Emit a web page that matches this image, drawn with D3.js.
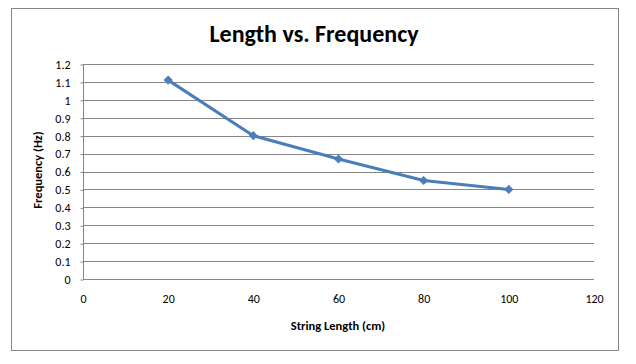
<!DOCTYPE html>
<html><head><meta charset="utf-8">
<script src="https://cdn.jsdelivr.net/npm/d3@7"></script>
<style>body{margin:0;background:#fff}svg{display:block}</style>
</head><body><svg id="c" width="636" height="364"></svg>
<script>
const lengths = [20, 40, 60, 80, 100];
const frequencies = [1.11, 0.80, 0.67, 0.55, 0.50];
const xTicks = [0, 20, 40, 60, 80, 100, 120];
const yTicks = [0, 0.1, 0.2, 0.3, 0.4, 0.5, 0.6, 0.7, 0.8, 0.9, 1, 1.1, 1.2];
const title = "Length vs. Frequency";
const xTitle = "String Length (cm)";
const yTitle = "Frequency (Hz)";

const svg = d3.select("#c");
const font = "Calibri, Carlito, 'Open Sans', 'Liberation Sans', sans-serif";
svg.append("rect").attr("x", 11.5).attr("y", 8.5).attr("width", 607).attr("height", 342)
  .attr("fill", "#fff").attr("stroke", "#868686").attr("stroke-width", 1);

const x = d3.scaleLinear().domain([0, 120]).range([83, 594]);
const y = d3.scaleLinear().domain([0, 1.2]).range([279, 64]);

svg.append("g").selectAll("line").data(yTicks).join("line")
  .attr("x1", x(0)).attr("x2", x(120))
  .attr("y1", d => Math.round(y(d)) + 0.5).attr("y2", d => Math.round(y(d)) + 0.5)
  .attr("stroke", "#868686").attr("stroke-width", 1);
svg.append("line").attr("x1", 83.5).attr("x2", 83.5).attr("y1", y(1.2)).attr("y2", y(0))
  .attr("stroke", "#868686");

const yAxis = d3.axisLeft(y).tickValues(yTicks).tickSize(3).tickFormat(d => String(+d.toFixed(1)));
const gy = svg.append("g").attr("transform", "translate(83.5,0.5)").call(yAxis);
gy.select(".domain").remove();
gy.selectAll("line").attr("stroke", "#868686");
gy.selectAll("text").attr("font-family", font).attr("font-size", 12).attr("fill", "#000").attr("x", -13);

const xAxis = d3.axisBottom(x).tickValues(xTicks).tickSize(0).tickFormat(d3.format("d"));
const gx = svg.append("g").attr("transform", "translate(0,291)").call(xAxis);
gx.select(".domain").remove();
gx.selectAll("text").attr("font-family", font).attr("font-size", 12).attr("fill", "#000");

const data = lengths.map((l, i) => [l, frequencies[i]]);
svg.append("path").datum(data)
  .attr("d", d3.line().x(d => x(d[0])).y(d => y(d[1])))
  .attr("fill", "none").attr("stroke", "#4a7ebb").attr("stroke-width", 3).attr("stroke-linejoin", "round");
svg.append("g").selectAll("path").data(data).join("path")
  .attr("d", d3.symbol().type(d3.symbolSquare).size(30))
  .attr("transform", d => `translate(${x(d[0])},${y(d[1])}) rotate(45)`)
  .attr("fill", "#4a7ebb").attr("stroke", "#4a7ebb");

svg.append("text").attr("x", 314).attr("y", 42).attr("text-anchor", "middle")
  .attr("font-family", font).attr("font-weight", "bold").attr("font-size", 24).text(title);
svg.append("text").attr("x", 338).attr("y", 330).attr("text-anchor", "middle")
  .attr("font-family", font).attr("font-weight", "bold").attr("font-size", 12.5).text(xTitle);
svg.append("text").attr("transform", "translate(42,170) rotate(-90)").attr("text-anchor", "middle")
  .attr("font-family", font).attr("font-weight", "bold").attr("font-size", 12.5).text(yTitle);
</script></body></html>
